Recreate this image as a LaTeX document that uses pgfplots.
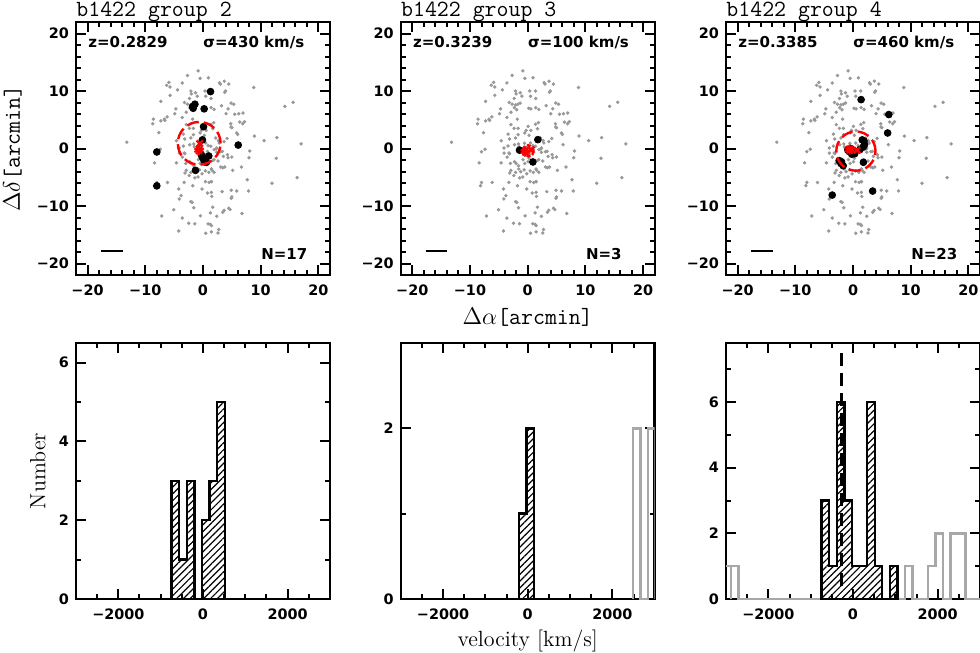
\documentclass[border=0pt]{standalone}
\usepackage{pgfplots}
\pgfplotsset{compat=1.18}
\usepackage{pgfplotstable}
\usepackage{fontspec}
\usetikzlibrary{patterns.meta}
\newfontfamily\dv{DejaVu Sans}
\newcommand\tickf{\dv\bfseries\fontsize{7.2}{8.5}\selectfont}
\definecolor{fieldgrey}{gray}{0.6}
\definecolor{histgrey}{gray}{0.66}

% background galaxies (same field in all three maps)
\pgfplotstableread{
x y
-0.85 13.5
-2.7 12.7
-0.5 12.2
0.93 12.3
-5.9 11.5
-6.3 11.0
-5.7 10.7
-3.6 11.4
-4.4 10.2
-2.1 10.0
-1.3 9.7
-2.0 9.5
0.36 10.0
1.35 10.0
-1.0 9.1
-2.35 8.7
0.48 9.1
-5.7 9.25
-7.3 8.2
-3.2 8.0
-2.7 7.7
-2.1 7.6
-1.7 7.7
-1.3 7.9
-2.3 7.1
-1.9 6.75
-4.7 6.9
-4.9 6.05
-2.9 6.3
0.19 7.0
0.54 6.9
1.4 7.1
-8.6 5.1
-6.7 5.1
-6.2 5.5
-7.3 4.8
-6.6 4.9
-8.7 4.3
-3.6 5.4
-1.8 5.1
-2.9 4.15
-2.35 3.5
-1.66 3.5
0.07 3.86
-0.28 3.15
0.54 3.15
1.35 4.2
-7.65 2.75
-3.4 2.5
-1.66 2.4
-0.5 2.7
0.24 2.3
-3.15 1.65
-13.2 1.1
-4.6 1.35
-2.3 0.66
-1.6 0.8
-7.4 -0.14
-3.4 0.43
-0.55 0.9
2.85 11.45
3.0 11.2
3.7 11.7
4.46 11.2
3.9 10.0
3.77 9.77
8.8 10.6
1.4 8.7
3.2 7.45
4.86 7.9
5.33 7.7
1.92 6.8
4.34 6.9
4.0 6.05
5.5 5.95
6.19 6.05
6.94 6.17
14.2 7.33
15.6 8.03
1.86 4.5
4.8 4.3
4.86 3.74
6.36 4.6
6.88 4.3
7.2 4.66
5.0 3.62
5.85 2.7
6.0 2.46
8.9 2.17
10.57 1.37
12.8 1.9
17.0 0.8
2.67 1.37
3.65 1.2
4.17 1.75
6.13 0.66
1.7 3.45
2.38 0.09
-8.0 -0.55
-8.4 -2.5
-4.6 -2.5
-4.1 -0.8
-3.56 -1.5
-3.15 -0.9
-3.0 -2.6
-2.3 -2.3
-2.0 -2.6
-1.6 -3.0
-0.8 -1.95
-0.5 -2.6
0.07 -2.3
0.24 -1.7
-2.9 -3.8
-3.1 -4.26
-2.1 -4.15
-1.54 -3.56
-1.2 -4.03
-0.62 -3.7
-0.16 -4.4
0.42 -3.9
1.0 -4.15
1.45 -3.56
-0.85 -4.95
-1.4 -5.1
-2.4 -4.7
0.42 -5.77
1.05 -5.9
1.45 -5.77
-8.0 -5.9
-8.17 -6.47
-6.15 -5.9
-3.27 -5.9
-1.77 -6.47
-4.19 -7.04
-0.16 -7.04
-3.79 -8.2
-4.13 -8.78
0.77 -7.74
1.45 -7.62
-2.1 -9.25
-1.88 -9.36
-1.6 -10.3
-5.05 -10.65
-7.13 -11.74
-3.6 -12.1
-0.45 -11.7
1.28 -11.2
-2.46 -13.0
-1.42 -13.1
0.88 -13.1
1.28 -13.2
-4.19 -14.35
0.48 -14.75
1.45 -14.5
2.27 -0.09
2.38 -0.67
3.08 -0.55
3.53 -1.36
4.34 -1.6
5.0 -1.48
8.09 -0.43
7.97 -1.6
12.7 -1.7
1.7 -2.06
1.92 -1.95
2.61 -2.17
3.08 -3.22
3.77 -3.22
3.42 -3.34
5.15 -3.8
6.65 -3.22
1.57 -3.8
1.92 -4.15
7.68 -5.43
11.95 -6.05
16.3 -5.07
1.46 -5.77
3.3 -7.5
4.9 -7.27
5.85 -7.39
7.9 -7.39
5.0 -8.43
4.9 -8.66
1.52 -8.33
1.69 -10.2
4.46 -10.4
4.69 -10.6
3.65 -10.75
3.42 -11.1
6.76 -11.3
2.38 -11.8
1.46 -13.4
2.73 -14.1
2.61 -14.7
0.48 0.96
1.35 0.38
0.78 -0.5
1.94 -0.2
-2.1 1.83
-1.2 -0.6
-0.5 -1.2
0.3 -1.0
-1.5 0.3
2.8 0.96
3.37 -0.5
4.24 -1.07
-4.1 0.09
-3.25 -0.78
2.2 1.83
-0.3 0.2
0.9 0.5
}\field

% group members
\pgfplotstableread{
x y
1.3 9.9
-1.4 7.7
-1.8 7.3
-1.7 7.0
0.2 6.9
0.1 3.8
-0.1 1.5
-8.0 -0.6
6.1 0.6
-8.0 -6.5
-1.3 -3.8
-0.3 -1.1
0.1 -1.9
1.0 -1.3
0.6 -2.4
-0.1 -1.5
0.3 -2.3
}\gtwo

\pgfplotstableread{
x y
1.76 1.54
-1.42 -0.29
0.9 -2.34
}\gthree

\pgfplotstableread{
x y
1.4 8.5
6.2 5.9
6.0 2.7
1.9 1.3
2.0 0.7
1.8 0.3
-0.4 -0.6
0.1 -0.7
-0.2 -0.4
-2.0 -2.3
-1.7 -3.0
1.8 -2.4
3.4 -7.4
-3.6 -8.1
1.6 1.5
1.2 -0.2
-0.7 -0.5
-0.9 -0.2
-0.4 0.0
-2.4 -2.1
-2.1 -2.6
0.3 -0.9
-0.2 -1.0
}\gfour

\tikzset{
  annot/.style={font=\dv\bfseries\fontsize{7.5}{9}\selectfont, inner sep=0pt},
  ttl/.style={font=\ttfamily\fontsize{11.6}{13}\selectfont, inner sep=0pt, anchor=base west},
}
\pgfplotsset{
  base/.style={scale only axis, width=127pt, clip mode=individual,
    tick align=inside, tick pos=both, xticklabel pos=lower, yticklabel pos=left,
    axis line style={line width=1.2pt},
    every tick/.style={black, line width=1pt},
    major tick length=5pt, minor tick length=2.5pt,
    /pgf/number format/assume math mode=true,
    tick label style={font=\tickf},
    xticklabel style={yshift=-1.5pt}},
  map/.style={base, height=126.5pt, xmin=-22, xmax=22, ymin=-22, ymax=22,
    xtick={-20,-10,0,10,20}, ytick={-20,-10,0,10,20},
    xticklabels={−20,−10,0,10,20}, yticklabels={−20,−10,0,10,20},
    minor tick num=4},
  hist/.style={base, height=128pt, xmin=-3000, xmax=3000, ymin=0,
    xtick={-2000,0,2000}, xticklabels={−2000,0,2000},
    minor xtick={-2500,-1500,-1000,-500,500,1000,1500,2500}},
  hatch/.style={draw=black, line width=1.2pt, pattern={Lines[angle=45, distance=2.4pt, line width=0.6pt]}},
  greyhist/.style={draw=histgrey, line width=1.2pt},
}

\begin{document}
\begin{tikzpicture}
\useasboundingbox (0,0) rectangle (490pt,-326.5pt);

% ---------- sky maps ----------
\begin{axis}[map, at={(38pt,-137.5pt)}, anchor=south west,
  ylabel={\ttfamily\fontsize{11.6}{13}\selectfont$\Delta\delta$[arcmin]},
  every axis y label/.style={at={(rel axis cs:-0.25,0.5)}, rotate=90, anchor=center}]
  \addplot[only marks, mark=*, mark size=0.65pt, fieldgrey] table {\field};
  \addplot[only marks, mark=*, mark size=1.7pt, black] table {\gtwo};
  \addplot[only marks, red, line width=1.2pt, mark=o, mark size=10.7pt,
    mark options={dash pattern=on 6pt off 2.5pt}] coordinates {(-0.66,0.9)};
  \addplot[only marks, red, line width=1.2pt, mark=x, mark size=2.2pt] coordinates {(-0.57,0.86)};
  \addplot[only marks, red, line width=0.9pt, mark=10-pointed star, mark size=2.5pt,
    mark options={fill=none}] coordinates {(-0.68,-0.29)};
  \addplot[black, line width=1pt] coordinates {(-17.7,-17.8) (-13.9,-17.8)};
  \node[annot, anchor=west] at (rel axis cs:0.047,0.92) {z=0.2829};
  \node[annot, anchor=west] at (rel axis cs:0.50,0.92) {σ=430 km/s};
  \node[annot, anchor=west] at (rel axis cs:0.728,0.083) {N=17};
  \node[ttl] at (rel axis cs:0,1.02) {b1422 group 2};
\end{axis}

\begin{axis}[map, at={(200.35pt,-137.5pt)}, anchor=south west,
  xlabel={\ttfamily\fontsize{11.6}{13}\selectfont$\Delta\alpha$[arcmin]},
  every axis x label/.style={at={(rel axis cs:0.5,-0.166)}, anchor=center}]
  \addplot[only marks, mark=*, mark size=0.65pt, fieldgrey] table {\field};
  \addplot[only marks, mark=*, mark size=1.7pt, black] table {\gthree};
  \addplot[only marks, red, line width=1.2pt, mark=o, mark size=2.8pt,
    mark options={dash pattern=on 2pt off 1pt}] coordinates {(0.1,-0.4)};
  \addplot[only marks, red, line width=1.2pt, mark=x, mark size=2.2pt] coordinates {(0.6,-0.2)};
  \addplot[only marks, red, line width=0.9pt, mark=10-pointed star, mark size=2.5pt,
    mark options={fill=none}] coordinates {(-0.4,-0.5)};
  \addplot[black, line width=1pt] coordinates {(-17.7,-17.8) (-13.9,-17.8)};
  \node[annot, anchor=west] at (rel axis cs:0.047,0.92) {z=0.3239};
  \node[annot, anchor=west] at (rel axis cs:0.50,0.92) {σ=100 km/s};
  \node[annot, anchor=west] at (rel axis cs:0.728,0.083) {N=3};
  \node[ttl] at (rel axis cs:0,1.02) {b1422 group 3};
\end{axis}

\begin{axis}[map, at={(363pt,-137.5pt)}, anchor=south west]
  \addplot[only marks, mark=*, mark size=0.65pt, fieldgrey] table {\field};
  \addplot[only marks, mark=*, mark size=1.7pt, black] table {\gfour};
  \addplot[only marks, red, line width=1.2pt, mark=o, mark size=9.8pt,
    mark options={dash pattern=on 6pt off 2.5pt}] coordinates {(0.5,-0.45)};
  \addplot[only marks, red, line width=1.2pt, mark=x, mark size=2.2pt] coordinates {(0.7,-0.3)};
  \addplot[only marks, red, line width=0.9pt, mark=10-pointed star, mark size=2.5pt,
    mark options={fill=none}] coordinates {(-0.6,-0.2)};
  \addplot[black, line width=1pt] coordinates {(-17.7,-17.8) (-13.9,-17.8)};
  \node[annot, anchor=west] at (rel axis cs:0.047,0.92) {z=0.3385};
  \node[annot, anchor=west] at (rel axis cs:0.50,0.92) {σ=460 km/s};
  \node[annot, anchor=west] at (rel axis cs:0.728,0.083) {N=23};
  \node[ttl] at (rel axis cs:0,1.02) {b1422 group 4};
\end{axis}

% ---------- velocity histograms ----------
\begin{axis}[hist, at={(38pt,-299.5pt)}, anchor=south west, ymax=6.5,
  ytick={0,2,4,6}, minor ytick={1,3,5},
  ylabel={\fontsize{11}{13}\selectfont Number},
  every axis y label/.style={at={(rel axis cs:-0.15,0.5)}, rotate=90, anchor=center}]
  \addplot[hatch] coordinates {(-740,0) (-740,3) (-561,3) (-561,1) (-382,1) (-382,3) (-203,3) (-203,0)
    (-24,0) (-24,2) (155,2) (155,3) (334,3) (334,5) (513,5) (513,0)} \closedcycle;
\end{axis}

\begin{axis}[hist, at={(200.35pt,-299.5pt)}, anchor=south west, ymax=3,
  ytick={0,2}, minor ytick={1,3},
  xlabel={\fontsize{11}{13}\selectfont velocity [km/s]},
  every axis x label/.style={at={(rel axis cs:0.5,-0.164)}, anchor=center}]
  \addplot[greyhist] coordinates {(2482,0) (2482,2) (2661,2) (2661,0) (2840,0) (2840,2) (3019,2) (3019,0)};
  \addplot[hatch] coordinates {(-203,0) (-203,1) (-24,1) (-24,2) (155,2) (155,0)} \closedcycle;
\end{axis}

\begin{axis}[hist, at={(363pt,-299.5pt)}, anchor=south west, ymax=7.8,
  ytick={0,2,4,6}, minor ytick={1,3,5,7}]
  \addplot[greyhist] coordinates {(-3067,0) (-3067,1) (-2888,1) (-2888,0) (-2888,1) (-2709,1) (-2709,0)
    (1229,0) (1229,1) (1408,1) (1408,0) (1766,0) (1766,1) (1945,1) (1945,2) (2124,2) (2124,0)
    (2303,0) (2303,2) (2661,2) (2661,0) (3019,0)};
  \addplot[hatch] coordinates {(-740,0) (-740,3) (-561,3) (-561,1) (-382,1) (-382,6) (-203,6) (-203,3)
    (-24,3) (-24,1) (155,1) (334,1) (334,6) (513,6) (513,1) (692,1) (692,0) (871,0) (871,1)
    (1050,1) (1050,0)} \closedcycle;
  \addplot[black, line width=1.5pt, dash pattern=on 6.5pt off 3.5pt] coordinates {(-270,0.4) (-270,7.7)};
\end{axis}
\end{tikzpicture}
\end{document}
